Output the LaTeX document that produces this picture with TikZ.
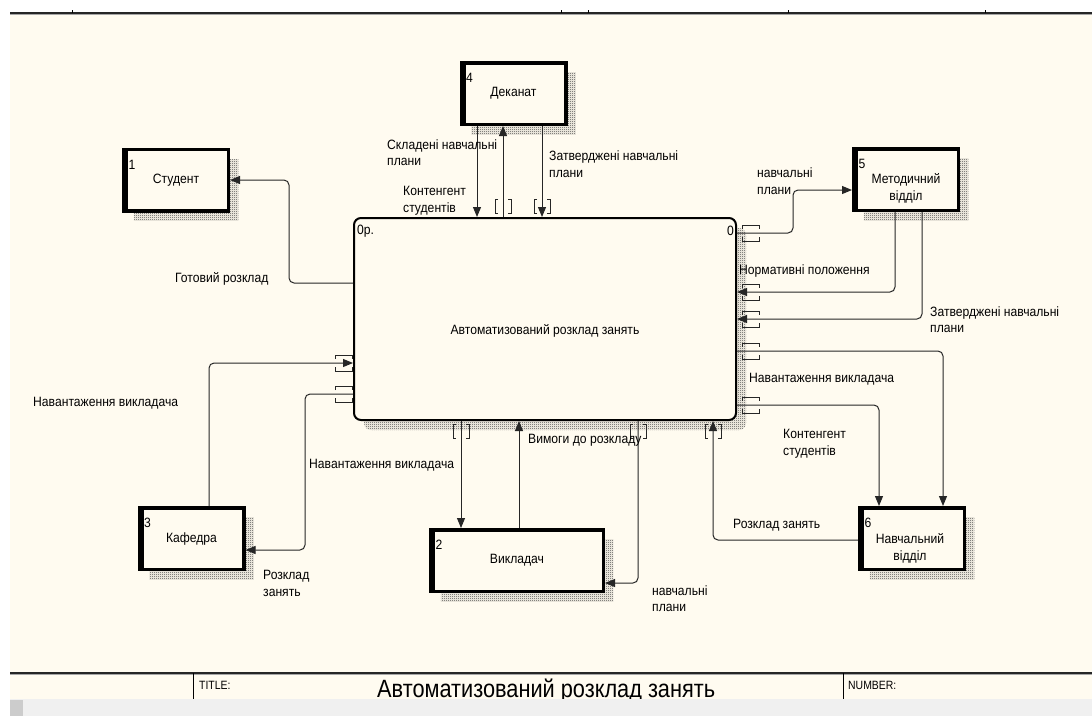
\documentclass[tikz,border=0pt]{standalone}
\usepackage{fontspec}
\setmainfont{Liberation Sans}
\newfontfamily\lblfont[FakeStretch=0.9]{Liberation Sans}
\newfontfamily\ttlfont[FakeStretch=0.87]{Liberation Sans}
\usetikzlibrary{arrows.meta,patterns,shadows}
\definecolor{cream}{RGB}{255,251,240}
\definecolor{band}{RGB}{240,240,240}
\pgfdeclarepatternformonly{finechecker}{\pgfpointorigin}{\pgfpoint{2pt}{2pt}}{\pgfpoint{2pt}{2pt}}{%
  \pgfpathrectangle{\pgfpointorigin}{\pgfpoint{1pt}{1pt}}%
  \pgfpathrectangle{\pgfpoint{1pt}{1pt}}{\pgfpoint{1pt}{1pt}}%
  \pgfusepath{fill}}
\tikzset{
  hatchshadow/.style={general shadow={shadow xshift=10pt,shadow yshift=-10pt,pattern=finechecker,pattern color=black!75}},
  ext/.style={draw=black,line width=3.5pt,fill=cream,inner sep=0pt,minimum width=104.5pt,minimum height=61.5pt,
    font=\lblfont\fontsize{13.5}{16.5}\selectfont,align=center,hatchshadow},
  boxtxt/.style={inner sep=0pt,align=center,font=\lblfont\fontsize{13.5}{16.5}\selectfont},
  mainbox/.style={draw=black,line width=2pt,rounded corners=7pt,fill=cream,inner sep=0pt,
    minimum width=382pt,minimum height=202pt,hatchshadow},
  flow/.style={draw=black!85,line width=1pt,rounded corners=5pt,-{Triangle[length=10pt,width=8pt]}},
  tunnel/.style={draw=black!85,line width=0.9pt},
  lbl/.style={anchor=west,inner sep=0pt,align=left,font=\lblfont\fontsize{13.5}{16.5}\selectfont},
  num/.style={anchor=west,inner sep=0pt,font=\lblfont\fontsize{13.5}{16.5}\selectfont},
  tunv/.pic={\draw[tunnel] (-5,-7) -- (-8,-7) -- (-8,7) -- (-5,7);
             \draw[tunnel] (5,-7) -- (8,-7) -- (8,7) -- (5,7);},
  tunh/.pic={\draw[tunnel] (-8.5,-4) -- (-8.5,-8) -- (8.5,-8) -- (8.5,-4);
             \draw[tunnel] (-8.5,4) -- (-8.5,8) -- (8.5,8) -- (8.5,4);}
}
\begin{document}
\begin{tikzpicture}[x=1pt,y=-1pt]
\useasboundingbox (0,0) rectangle (1092,716);
\fill[white] (0,0) rectangle (1092,716);
\fill[cream] (10,13) rectangle (1092,699);
% top frame
\draw[black!85,line width=1.2pt] (10,13) -- (1092,13);
\draw[black!35,line width=1pt] (10,14.6) -- (1092,14.6);
\foreach \tx in {72,561,588,788,985} \draw[black,line width=1pt] (\tx,10) -- (\tx,13);

% boxes
\node[mainbox] (main) at (545,319) {};
\node[ext] (stu) at (176,180) {Студент};
\node[ext] (dek) at (513.5,93.5) {Деканат};
\node[ext,label={[boxtxt,yshift=-9pt]center:Методичний\\відділ}] (met) at (906,179.5) {};
\node[ext,label={[boxtxt,yshift=-10pt,xshift=-2pt]center:Навчальний\\відділ}] (nav) at (912,538.5) {};
\node[ext] (kaf) at (191.5,538.5) {Кафедра};
\node[ext,minimum width=172.5pt] (vyk) at (517,560.5) {Викладач};
\foreach \n in {stu,dek,met,nav,kaf,vyk}
  \fill[black] (\n.north west) rectangle ([xshift=6pt]\n.south west);
\node[num] (stuN) at ([xshift=6.5pt,yshift=-17pt]stu.north west) {1};
\node[num] (dekN) at ([xshift=6.5pt,yshift=-17pt]dek.north west) {4};
\node[num] (metN) at ([xshift=6.5pt,yshift=-17pt]met.north west) {5};
\node[num] (navN) at ([xshift=6.5pt,yshift=-17pt]nav.north west) {6};
\node[num] (kafN) at ([xshift=6.5pt,yshift=-17pt]kaf.north west) {3};
\node[num] (vykN) at ([xshift=6.5pt,yshift=-17pt]vyk.north west) {2};
\node[boxtxt] (mainT) at (545,331) {Автоматизований розклад занять};
\node[num] (mainN) at (357,231) {0р.};
\node[num,anchor=east] (mainN2) at (734,231) {0};

% connectors
\draw[flow] (main.west |- 0,283) -- (289,283) -- (289,180) -- (stu.east);
\draw[flow] (dek.south -| 477,0) -- (main.north -| 477,0);
\draw[flow] (main.north -| 503,0) -- (dek.south -| 503,0);
\draw[flow] (dek.south -| 542,0) -- (main.north -| 542,0);
\draw[flow] (main.east |- 0,233) -- (793,233) -- (793,190) -- (met.west |- 0,190);
\draw[flow] (met.south -| 895,0) -- (895,292) -- (main.east |- 0,292);
\draw[flow] (met.south -| 922,0) -- (922,319) -- (main.east |- 0,319);
\draw[flow] (main.east |- 0,351) -- (943,351) -- (nav.north -| 943,0);
\draw[flow] (main.east |- 0,405) -- (879,405) -- (nav.north -| 879,0);
\draw[flow] (nav.west |- 0,540) -- (713,540) -- (main.south -| 713,0);
\draw[flow] (kaf.north -| 209,0) -- (209,363) -- (main.west |- 0,363);
\draw[flow] (main.west |- 0,394) -- (305,394) -- (305,550) -- (kaf.east |- 0,550);
\draw[flow] (main.south -| 461,0) -- (vyk.north -| 461,0);
\draw[flow] (vyk.north -| 519,0) -- (main.south -| 519,0);
\draw[flow] (main.south -| 638,0) -- (638,583) -- (vyk.east |- 0,583);

% tunnels
\pic at (503,206) {tunv};
\pic at (542,206) {tunv};
\pic at (461,431.5) {tunv};
\pic at (638,431.5) {tunv};
\pic at (713,431.5) {tunv};
\foreach \ty in {233,292,319,351,405} \pic at (750.5,\ty) {tunh};
\foreach \ty in {363,394} \pic at (343.5,\ty) {tunh};

% labels
\node[lbl] (l1) at (175,279) {Готовий розклад};
\node[lbl] (l2) at (387,152.5) {Складені навчальні\\плани};
\node[lbl] (l3) at (403,200.5) {Контенгент\\студентів};
\node[lbl] (l4) at (549,164) {Затверджені навчальні\\плани};
\node[lbl] (l5) at (757,181) {навчальні\\плани};
\node[lbl] (l6) at (739,271) {Нормативні положення};
\node[lbl] (l7) at (930,319.5) {Затверджені навчальні\\плани};
\node[lbl] (l8) at (749,379) {Навантаження викладача};
\node[lbl] (l9) at (783,443.5) {Контенгент\\студентів};
\node[lbl] (l10) at (733,525) {Розклад занять};
\node[lbl] (l11) at (33,403) {Навантаження викладача};
\node[lbl] (l12) at (309,465) {Навантаження викладача};
\node[lbl] (l13) at (263,583.5) {Розклад\\занять};
\node[lbl] (l14) at (528,440) {Вимоги до розкладу};
\node[lbl] (l15) at (652,598.5) {навчальні\\плани};

% bottom frame
\draw[black!85,line width=1.5pt] (10,673) -- (1092,673);
\draw[black!35,line width=0.8pt] (10,674.6) -- (1092,674.6);
\draw[black,line width=1pt] (193,673) -- (193,699);
\draw[black,line width=1pt] (843,673) -- (843,699);
\node[anchor=base west,inner sep=0pt,font=\ttlfont\fontsize{12}{12}\selectfont] (ttl) at (199,689) {TITLE:};
\node[anchor=base west,inner sep=0pt,font=\ttlfont\fontsize{12}{12}\selectfont] (nmb) at (848,689) {NUMBER:};
\node[anchor=base west,inner sep=0pt,font=\ttlfont\fontsize{25}{25}\selectfont] (bigT) at (377,697.5) {Автоматизований розклад занять};
\fill[band] (10,699) rectangle (1092,716);
\fill[black!20] (10,700) rectangle (23,716);
\end{tikzpicture}
\end{document}
